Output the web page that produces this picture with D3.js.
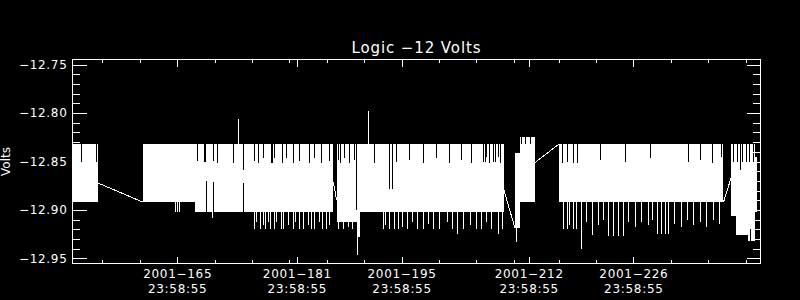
<!DOCTYPE html>
<html>
<head>
<meta charset="utf-8">
<script src="https://cdn.jsdelivr.net/npm/d3@7"></script>
<style>
  body { margin: 0; background: #000; }
  svg { display: block; }
</style>
</head>
<body>
<div id="chart"></div>
<script>
'use strict';

// Titulos
var title = 'Logic \u221212 Volts';
var yTitle = 'Volts';

// Eje Y: valores mayores y menores
var yMajor = [-12.95, -12.90, -12.85, -12.80, -12.75];
var yMinor = [-12.95, -12.94, -12.93, -12.92, -12.91, -12.90, -12.89, -12.88, -12.87, -12.86,
  -12.85, -12.84, -12.83, -12.82, -12.81, -12.80, -12.79, -12.78, -12.77, -12.76, -12.75];

// Eje X en dias del 2001
var dayTicks = [165, 181, 195, 212, 226];
var dayLabels = ['2001\u2212165', '2001\u2212181', '2001\u2212195', '2001\u2212212', '2001\u2212226'];
var timeLabel = '23:58:55';
var dayMinor = [155, 160, 165, 170, 175, 180, 185, 190, 195, 200, 205, 210, 216, 221, 226, 231, 236, 241];

// Bandas de la senal: [dia inicio, dia fin, valor alto, valor bajo]
var bands = [
  [151.00, 154.35, -12.832, -12.892],
  [160.45, 185.87, -12.832, -12.892],
  [167.40, 185.87, -12.892, -12.902],
  [186.32, 208.71, -12.832, -12.892],
  [186.32, 189.08, -12.892, -12.912],
  [189.08, 189.50, -12.892, -12.928],
  [189.50, 208.71, -12.892, -12.902],
  [210.18, 210.85, -12.841, -12.919],
  [210.85, 212.86, -12.825, -12.892],
  [216.07, 238.05, -12.832, -12.892],
  [239.06, 239.73, -12.832, -12.906],
  [239.73, 241.33, -12.832, -12.926],
  [241.33, 242.27, -12.832, -12.932],
  [242.27, 242.54, -12.845, -12.902]
];

// Picos fuera de la banda: [dia, valor]
var spikes = [
  [173.16, -12.806], [190.55, -12.798],
  [164.82, -12.902], [165.05, -12.902], [165.36, -12.902], [169.68, -12.908],
  [175.30, -12.920], [175.62, -12.912], [176.15, -12.920], [176.60, -12.916], [176.86, -12.920],
  [177.17, -12.912], [177.49, -12.920], [177.97, -12.920], [178.30, -12.912], [178.96, -12.920],
  [179.27, -12.920], [179.94, -12.916], [180.52, -12.920], [180.88, -12.912], [181.32, -12.920],
  [181.85, -12.920], [182.52, -12.916], [182.98, -12.920], [183.42, -12.920], [184.09, -12.912],
  [184.45, -12.920], [184.99, -12.920], [185.33, -12.916],
  [186.60, -12.920], [187.20, -12.920], [187.90, -12.918], [188.50, -12.920], [189.12, -12.946],
  [192.56, -12.920], [192.92, -12.915], [193.45, -12.920], [194.12, -12.920], [194.57, -12.920],
  [195.19, -12.918], [195.86, -12.920], [196.40, -12.912], [197.20, -12.920], [197.87, -12.920],
  [198.54, -12.914], [199.21, -12.920], [200.14, -12.920], [201.08, -12.912], [201.75, -12.920],
  [202.49, -12.925], [203.22, -12.920], [204.16, -12.916], [204.96, -12.920], [205.63, -12.920],
  [206.30, -12.912], [206.97, -12.920], [207.95, -12.925], [208.44, -12.920],
  [210.41, -12.933],
  [216.64, -12.920], [217.18, -12.920], [217.50, -12.916], [217.98, -12.920], [218.40, -12.920],
  [219.01, -12.940], [219.70, -12.912], [220.60, -12.926], [221.30, -12.916], [222.00, -12.910],
  [222.62, -12.927], [223.29, -12.927], [223.96, -12.927], [224.63, -12.927], [225.40, -12.912],
  [226.30, -12.918], [227.10, -12.912], [228.00, -12.916], [228.60, -12.910], [229.18, -12.925],
  [229.71, -12.925], [230.25, -12.925], [230.65, -12.925], [231.50, -12.914], [232.40, -12.918],
  [233.20, -12.910], [234.10, -12.916], [235.00, -12.912], [235.80, -12.918], [236.70, -12.910],
  [237.50, -12.914]
];

// Huecos dentro de la banda: [dia, valor alto, valor bajo]
var notches = [
  [152.26, -12.832, -12.851], [154.25, -12.832, -12.851],
  [167.77, -12.832, -12.849], [168.60, -12.832, -12.850], [168.80, -12.832, -12.850],
  [169.91, -12.832, -12.849], [170.40, -12.832, -12.852], [172.58, -12.832, -12.852],
  [173.83, -12.832, -12.859], [175.30, -12.832, -12.849], [175.83, -12.832, -12.852],
  [176.50, -12.832, -12.846], [177.55, -12.832, -12.852], [177.70, -12.832, -12.852],
  [178.07, -12.832, -12.846], [179.10, -12.832, -12.852], [179.63, -12.832, -12.846],
  [180.52, -12.832, -12.852], [181.32, -12.832, -12.849], [182.66, -12.832, -12.852],
  [183.42, -12.832, -12.846], [184.32, -12.832, -12.852], [185.33, -12.832, -12.849],
  [168.93, -12.870, -12.902], [169.81, -12.871, -12.908], [173.83, -12.872, -12.908],
  [186.54, -12.832, -12.848], [186.86, -12.832, -12.852], [187.43, -12.832, -12.846],
  [188.10, -12.832, -12.852], [188.77, -12.832, -12.848], [188.98, -12.832, -12.900],
  [191.35, -12.832, -12.852], [193.36, -12.832, -12.878], [193.82, -12.832, -12.878],
  [194.35, -12.832, -12.850], [196.00, -12.832, -12.848], [198.00, -12.832, -12.852],
  [199.70, -12.832, -12.846], [201.40, -12.832, -12.852], [203.00, -12.832, -12.848],
  [204.40, -12.832, -12.852], [205.94, -12.832, -12.850], [206.17, -12.832, -12.850],
  [206.40, -12.832, -12.845], [206.74, -12.832, -12.852], [207.28, -12.832, -12.850],
  [207.50, -12.832, -12.850], [207.95, -12.832, -12.845], [208.27, -12.832, -12.852],
  [211.08, -12.825, -12.832], [211.61, -12.825, -12.832], [212.26, -12.825, -12.832],
  [216.53, -12.832, -12.852], [217.18, -12.832, -12.850], [217.98, -12.832, -12.852],
  [218.54, -12.832, -12.852], [221.55, -12.832, -12.848], [224.90, -12.832, -12.850],
  [228.24, -12.832, -12.846], [233.33, -12.832, -12.850], [234.93, -12.832, -12.848],
  [236.54, -12.832, -12.852], [237.74, -12.832, -12.845],
  [239.35, -12.832, -12.851], [239.95, -12.832, -12.851], [240.30, -12.832, -12.859],
  [240.55, -12.832, -12.851], [241.09, -12.832, -12.851], [241.49, -12.832, -12.851],
  [241.60, -12.920, -12.932], [242.02, -12.832, -12.851]
];

// Lineas que unen los huecos de datos: [dia0, valor0, dia1, valor1]
var links = [
  [154.35, -12.872, 160.45, -12.892],
  [185.87, -12.871, 186.32, -12.890],
  [208.71, -12.880, 210.18, -12.919],
  [212.86, -12.851, 216.07, -12.832],
  [238.05, -12.892, 239.06, -12.867]
];

var width = 800;
var height = 300;
var plotLeft = 72.5, plotRight = 760.5, plotTop = 59.5, plotBottom = 263.5;
var font = 'DejaVu Sans';

var x = d3.scaleLinear().domain([151, 243]).range([plotLeft, plotRight]);
var y = d3.scaleLinear().domain([-12.9552, -12.7448]).range([plotBottom, plotTop]);

var svg = d3.select('#chart')
  .append('svg')
  .attr('width', width)
  .attr('height', height);

svg.append('rect')
  .attr('width', width)
  .attr('height', height)
  .attr('fill', '#000');

svg.append('clipPath').attr('id', 'plot-clip')
  .append('rect')
  .attr('x', plotLeft).attr('y', plotTop)
  .attr('width', plotRight - plotLeft).attr('height', plotBottom - plotTop);

var plot = svg.append('g')
  .attr('clip-path', 'url(#plot-clip)')
  .attr('shape-rendering', 'crispEdges');

function px(d) {
  return Math.floor(x(d)) + 0.5;
}

// Bandas
plot.selectAll('rect.band')
  .data(bands)
  .enter().append('rect')
  .attr('class', 'band')
  .attr('x', function(d) { return Math.round(x(d[0])); })
  .attr('width', function(d) { return Math.max(1, Math.round(x(d[1])) - Math.round(x(d[0]))); })
  .attr('y', function(d) { return Math.round(y(d[2])); })
  .attr('height', function(d) { return Math.round(y(d[3])) - Math.round(y(d[2])); })
  .attr('fill', '#fff');

// Huecos negros
plot.selectAll('line.notch')
  .data(notches)
  .enter().append('line')
  .attr('class', 'notch')
  .attr('x1', function(d) { return px(d[0]); })
  .attr('x2', function(d) { return px(d[0]); })
  .attr('y1', function(d) { return Math.round(y(d[1])); })
  .attr('y2', function(d) { return Math.round(y(d[2])); })
  .attr('stroke', '#000')
  .attr('stroke-width', 1);

// Picos
plot.selectAll('line.spike')
  .data(spikes)
  .enter().append('line')
  .attr('class', 'spike')
  .attr('x1', function(d) { return px(d[0]); })
  .attr('x2', function(d) { return px(d[0]); })
  .attr('y1', function(d) { return Math.round(y(d[1] > -12.832 ? -12.832 : -12.892)); })
  .attr('y2', function(d) { return Math.round(y(d[1])); })
  .attr('stroke', '#fff')
  .attr('stroke-width', 1);

// Uniones
var linkLine = d3.line()
  .x(function(p) { return x(p[0]); })
  .y(function(p) { return y(p[1]); });

plot.selectAll('path.link')
  .data(links)
  .enter().append('path')
  .attr('class', 'link')
  .attr('d', function(d) { return linkLine([[d[0], d[1]], [d[2], d[3]]]); })
  .attr('fill', 'none')
  .attr('stroke', '#fff')
  .attr('stroke-width', 1);

// Marco
svg.append('rect')
  .attr('x', plotLeft).attr('y', plotTop)
  .attr('width', plotRight - plotLeft).attr('height', plotBottom - plotTop)
  .attr('fill', 'none')
  .attr('stroke', '#fff')
  .attr('shape-rendering', 'crispEdges');

function styleAxis(g) {
  g.select('.domain').remove();
  g.attr('font-family', font)
    .attr('font-size', 12)
    .attr('shape-rendering', 'crispEdges')
    .style('color', '#fff')
    .style('letter-spacing', '0.7px');
}

// Eje Y izquierdo
svg.append('g')
  .attr('transform', 'translate(' + plotLeft + ',0)')
  .call(d3.axisLeft(y).tickValues(yMajor).tickSize(-14).tickPadding(5).tickFormat(d3.format('.2f')))
  .call(styleAxis);

svg.append('g')
  .attr('transform', 'translate(' + plotLeft + ',0)')
  .call(d3.axisLeft(y).tickValues(yMinor).tickSize(-7.5).tickFormat(''))
  .call(styleAxis);

// Eje Y derecho
svg.append('g')
  .attr('transform', 'translate(' + plotRight + ',0)')
  .call(d3.axisRight(y).tickValues(yMajor).tickSize(-14).tickFormat(''))
  .call(styleAxis);

svg.append('g')
  .attr('transform', 'translate(' + plotRight + ',0)')
  .call(d3.axisRight(y).tickValues(yMinor).tickSize(-7.5).tickFormat(''))
  .call(styleAxis);

// Eje X inferior
var xAxis = svg.append('g')
  .attr('transform', 'translate(0,' + plotBottom + ')')
  .call(d3.axisBottom(x).tickValues(dayTicks).tickSize(-7).tickFormat(function(d, i) { return dayLabels[i]; }))
  .call(styleAxis);

xAxis.selectAll('.tick text').each(function(d, i) {
  var t = d3.select(this);
  t.text(null).attr('y', null).attr('dy', null);
  t.append('tspan').attr('x', 0).attr('y', 14.5).text(dayLabels[i]);
  t.append('tspan').attr('x', 0).attr('y', 29).text(timeLabel);
});

svg.append('g')
  .attr('transform', 'translate(0,' + plotBottom + ')')
  .call(d3.axisBottom(x).tickValues(dayMinor).tickSize(-3.5).tickFormat(''))
  .call(styleAxis);

// Eje X superior
svg.append('g')
  .attr('transform', 'translate(0,' + plotTop + ')')
  .call(d3.axisTop(x).tickValues(dayTicks).tickSize(-7).tickFormat(''))
  .call(styleAxis);

svg.append('g')
  .attr('transform', 'translate(0,' + plotTop + ')')
  .call(d3.axisTop(x).tickValues(dayMinor).tickSize(-3.5).tickFormat(''))
  .call(styleAxis);

// Titulo
svg.append('text')
  .attr('x', (plotLeft + plotRight) / 2)
  .attr('y', 53)
  .attr('text-anchor', 'middle')
  .attr('fill', '#fff')
  .style('font-family', font)
  .style('font-size', '15px')
  .style('letter-spacing', '0.9px')
  .text(title);

// Titulo eje Y
svg.append('text')
  .attr('transform', 'translate(10,' + ((plotTop + plotBottom) / 2) + ') rotate(-90)')
  .attr('text-anchor', 'middle')
  .attr('fill', '#fff')
  .style('font-family', font)
  .style('font-size', '12px')
  .text(yTitle);
</script>
</body>
</html>
